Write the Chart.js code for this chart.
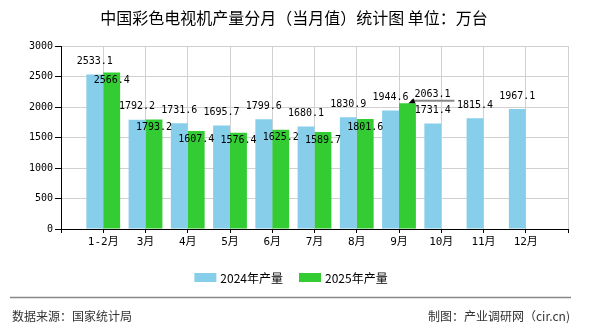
<!DOCTYPE html>
<html>
<head>
<meta charset="utf-8">
<script src="https://cdn.jsdelivr.net/npm/chart.js@4.4.1/dist/chart.umd.min.js"></script>
<style>
  html, body { margin: 0; padding: 0; background: #fff; }
  #wrap { width: 590px; height: 330px; position: relative; }
</style>
</head>
<body>
<div id="wrap"><canvas id="chart" width="590" height="330"></canvas></div>
<script>
// data
const months = ["1-2月", "3月", "4月", "5月", "6月", "7月", "8月", "9月", "10月", "11月", "12月"]
const output2024 = [2533.1, 1792.2, 1731.6, 1695.7, 1799.6, 1680.1, 1830.9, 1944.6, 1731.4, 1815.4, 1967.1]
const output2025 = [2566.4, 1793.2, 1607.4, 1576.4, 1625.2, 1589.7, 1801.6, 2063.1, null, null, null]
const yTicks = [0, 500, 1000, 1500, 2000, 2500, 3000]
const seriesNames = ["2024年产量", "2025年产量"]
const calloutMonth = "9月"

const titleText = "中国彩色电视机产量分月（当月值）统计图 单位：万台"
const sourceText = "数据来源：国家统计局"
const makerText = "制图：产业调研网（cir.cn)"

const colors = ["#87ceeb", "#33cc33"]
const monoFont = "'DejaVu Sans Mono', 'Noto Sans CJK SC', monospace"
const cjkFont = "'Noto Sans CJK SC', 'Liberation Sans', sans-serif"

// the axis runs one slot past the last month, so pad both ends
const labels = ["", ...months, ""]
const pad = arr => [null, ...arr, null]

const valueLabels = {
  id: "valueLabels",
  afterDatasetsDraw(chart) {
    const ctx = chart.ctx
    ctx.save()
    ctx.font = "10px " + monoFont
    ctx.fillStyle = "#000"
    ctx.textAlign = "center"
    ctx.textBaseline = "middle"
    chart.data.datasets.forEach((ds, i) => {
      const meta = chart.getDatasetMeta(i)
      meta.data.forEach((bar, j) => {
        const v = ds.data[j]
        if (v == null) return
        const text = v.toFixed(1)
        if (i === 0) {
          ctx.fillText(text, bar.x, bar.y - 13)
        } else if (labels[j] === calloutMonth) {
          // label lifted above the bar with a leader line
          ctx.strokeStyle = "#888"
          ctx.lineWidth = 2
          ctx.beginPath()
          ctx.moveTo(bar.x + 4, bar.y - 2.5)
          ctx.lineTo(bar.x + 47, bar.y - 2.5)
          ctx.stroke()
          ctx.beginPath()
          ctx.moveTo(bar.x + 1, bar.y)
          ctx.lineTo(bar.x + 8, bar.y)
          ctx.lineTo(bar.x + 6, bar.y - 5)
          ctx.closePath()
          ctx.fill()
          ctx.fillText(text, bar.x + 25, bar.y - 9)
        } else {
          ctx.fillText(text, bar.x, bar.y + 8)
        }
      })
    })
    ctx.restore()
  }
}

const decor = {
  id: "decor",
  afterDraw(chart) {
    const ctx = chart.ctx
    ctx.save()
    // title
    ctx.fillStyle = "#000"
    ctx.font = "16px " + cjkFont
    ctx.textAlign = "center"
    ctx.textBaseline = "middle"
    ctx.fillText(titleText, 294, 18)

    // legend
    ctx.font = "12px " + cjkFont
    ctx.textAlign = "left"
    const boxW = 22, boxH = 9, gap = 16
    const widths = seriesNames.map(n => boxW + 4 + ctx.measureText(n).width)
    let x = 291 - (widths[0] + gap + widths[1]) / 2
    seriesNames.forEach((name, i) => {
      ctx.fillStyle = colors[i]
      ctx.fillRect(x, 273, boxW, boxH)
      ctx.fillStyle = "#000"
      ctx.fillText(name, x + boxW + 4, 278)
      x += widths[i] + gap
    })

    // footer
    ctx.strokeStyle = "#888"
    ctx.lineWidth = 1.5
    ctx.beginPath()
    ctx.moveTo(10, 297.5)
    ctx.lineTo(571, 297.5)
    ctx.stroke()
    ctx.fillStyle = "#333"
    ctx.font = "12px " + cjkFont
    ctx.textAlign = "left"
    ctx.fillText(sourceText, 12, 316)
    ctx.textAlign = "right"
    ctx.fillText(makerText, 570, 316)
    ctx.restore()
  }
}

const chart = new Chart(document.getElementById("chart"), {
  type: "bar",
  data: {
    labels: labels,
    datasets: [
      {
        label: seriesNames[0],
        data: pad(output2024),
        backgroundColor: colors[0],
        borderWidth: 0,
        barPercentage: 1,
        categoryPercentage: 0.8
      },
      {
        label: seriesNames[1],
        data: pad(output2025),
        backgroundColor: colors[1],
        borderWidth: 0,
        barPercentage: 1,
        categoryPercentage: 0.8
      }
    ]
  },
  options: {
    responsive: false,
    animation: false,
    layout: {
      padding: { top: 46, right: 22, bottom: 80, left: 0 }
    },
    plugins: {
      legend: { display: false },
      title: { display: false },
      tooltip: { enabled: false }
    },
    scales: {
      x: {
        offset: false,
        grid: {
          offset: false,
          color: "#d0d0d0",
          tickColor: "#000",
          tickLength: 4
        },
        border: { color: "#000", width: 1 },
        ticks: {
          autoSkip: false,
          maxRotation: 0,
          padding: 3,
          color: "#000",
          font: { family: monoFont, size: 11 }
        },
        afterFit(scale) {
          scale.height = 21
        }
      },
      y: {
        min: yTicks[0],
        max: yTicks[yTicks.length - 1],
        afterBuildTicks(scale) {
          scale.ticks = yTicks.map(v => ({ value: v }))
        },
        grid: {
          color: "#d0d0d0",
          tickColor: "#000",
          tickLength: 6
        },
        border: { color: "#000", width: 1 },
        ticks: {
          padding: 2,
          color: "#000",
          font: { family: monoFont, size: 10 },
          callback: v => String(v)
        },
        afterFit(scale) {
          scale.width = 61
        }
      }
    }
  },
  plugins: [valueLabels, decor]
})
</script>
</body>
</html>
